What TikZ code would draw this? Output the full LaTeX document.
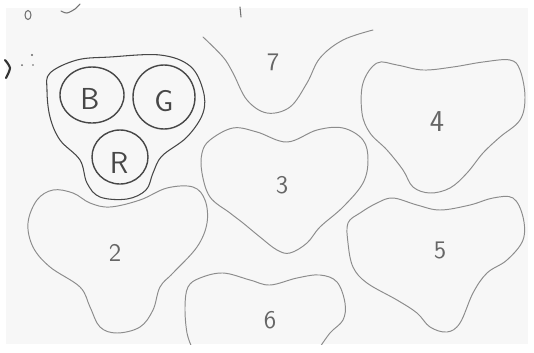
\documentclass[tikz,border=0pt]{standalone}
\usepackage{tikz}
\usetikzlibrary{positioning, calc}

\begin{document}
\begin{tikzpicture}[x=0.02cm, y=-0.02cm]
        \tikzstyle{blob} = [draw=black!45, line width=0.55pt, line cap=round, line join=round]
        \tikzstyle{ring} = [draw=black!72, line width=0.8pt]
        \tikzstyle{digit} = [text=black!60, font=\sffamily\Large]
        \tikzstyle{letter} = [text=black!72, font=\sffamily\LARGE]
        \tikzstyle{scrawl} = [draw=black!55, line width=0.6pt, line cap=round]

        \useasboundingbox (0,0) rectangle (534,352);
        \fill[white] (0,0) rectangle (534,352);
        \fill[black!3] (6,8) rectangle (528,344);

        % --- Notizreste oben links ---
        \draw[scrawl] (28,15) ellipse [x radius=3, y radius=4.5];
        \draw[scrawl] plot[smooth] coordinates {(61,11) (67,13) (75,9) (80,4)};
        \draw[scrawl] (240,7) -- (241,17);
        \draw[scrawl, draw=black!80, line width=1.2pt] plot[smooth] coordinates {(5,60) (10,68) (6,78)};
        \fill[black!60] (22,65) circle [radius=1] (32,55) circle [radius=1.1] (33,65) circle [radius=0.9];

        % --- Gruppe B G R ---
        \draw[ring, line width=0.6pt] plot[smooth cycle, tension=0.6] coordinates {
            (50,73) (77,60) (110,57) (160,55) (190,66) (203,90) (203,113) (187,137)
            (162,156) (153,173) (146,190) (127,199) (100,197) (87,183) (80,160)
            (60,140) (50,117) (47,90)};
        \draw[ring] (92,95) ellipse [x radius=32, y radius=28];
        \draw[ring] (164,97) ellipse [x radius=31, y radius=32];
        \draw[ring] (120,157) ellipse [x radius=28, y radius=27];
        \node[letter] (b) at (90,99) {B};
        \node[letter] (g) at (164,101) {G};
        \node[letter] (r) at (119,163) {R};

        % --- Flaeche 7 (oben abgeschnitten) ---
        \draw[blob] plot[smooth, tension=0.6] coordinates {
            (203,37) (223,57) (233,73) (247,100) (267,113) (290,107) (307,83)
            (320,58) (343,40) (373,30)};
        \node[digit] (n7) at (273,62) {7};

        % --- Flaeche 4 ---
        \draw[blob] plot[smooth cycle, tension=0.6] coordinates {
            (377,63) (397,65) (423,70) (453,67) (483,62) (510,60) (520,70) (525,97)
            (520,120) (500,137) (483,153) (467,173) (450,188) (430,193) (413,187)
            (403,170) (387,150) (370,133) (362,113) (363,83)};
        \node[digit, font=\sffamily\LARGE] (n4) at (437,122) {4};

        % --- Flaeche 3 ---
        \draw[blob] plot[smooth cycle, tension=0.6] coordinates {
            (210,140) (233,128) (257,132) (287,142) (317,130) (343,128) (363,140)
            (368,160) (363,183) (343,207) (320,227) (307,243) (290,253) (277,250)
            (260,237) (243,223) (230,213) (210,197) (202,173) (202,153)};
        \node[digit] (n3) at (282,185) {3};

        % --- Flaeche 2 ---
        \draw[blob] plot[smooth cycle, tension=0.6] coordinates {
            (37,200) (53,190) (73,193) (90,203) (110,207) (140,200) (167,188)
            (193,187) (205,200) (207,223) (197,247) (173,273) (160,287) (153,310)
            (140,327) (117,333) (100,327) (90,307) (80,287) (50,267) (33,247)
            (28,223)};
        \node[digit] (n2) at (115,253) {2};

        % --- Flaeche 5 ---
        \draw[blob] plot[smooth cycle, tension=0.6] coordinates {
            (348,223) (360,213) (377,203) (393,198) (417,205) (440,210) (470,205)
            (493,198) (513,198) (523,217) (523,240) (507,260) (487,273) (473,293)
            (460,323) (447,332) (430,327) (417,313) (397,300) (367,283) (353,267)
            (348,243)};
        \node[digit] (n5) at (440,250) {5};

        % --- Flaeche 6 (unten abgeschnitten) ---
        \begin{scope}
            \clip (0,0) rectangle (534,344);
            \draw[blob] plot[smooth, tension=0.6] coordinates {
                (193,350) (187,333) (185,307) (188,287) (200,278) (223,273) (250,280)
                (270,285) (297,278) (320,275) (337,282) (345,303) (343,320) (330,333)
                (318,350)};
        \end{scope}
        \node[digit] (n6) at (270,320) {6};

    \end{tikzpicture}
\end{document}
